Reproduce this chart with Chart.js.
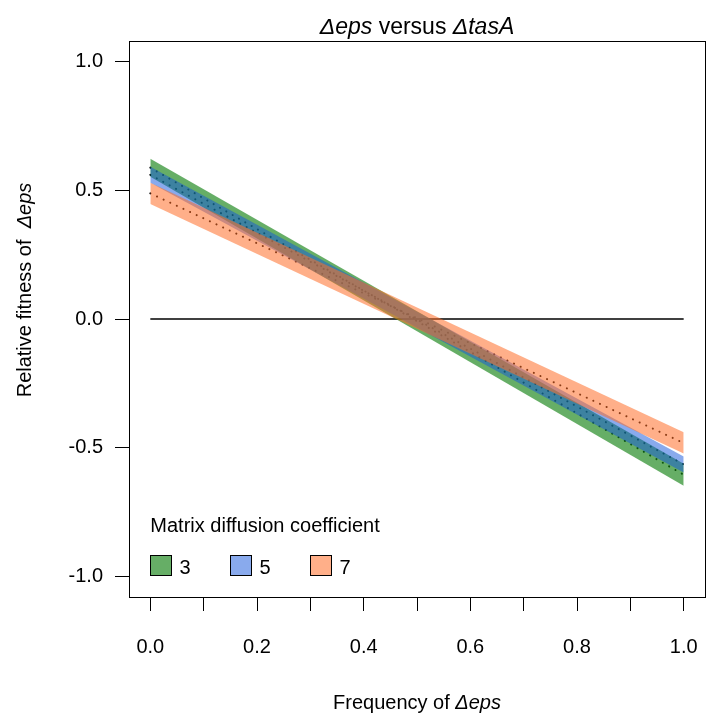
<!DOCTYPE html>
<html>
<head>
<meta charset="utf-8">
<script src="https://cdn.jsdelivr.net/npm/chart.js@4"></script>
<style>
  html, body { margin: 0; padding: 0; background: #fff; }
</style>
</head>
<body>
<canvas id="myChart" width="707" height="717"></canvas>
<script>
// values (fitted line + band at x = 0 and x = 1)
const xEnds = [0, 1];
const coefficients = ['3', '5', '7'];
const mean3 = [0.588, -0.605];
const low3 = [0.553, -0.648];
const high3 = [0.623, -0.562];
const mean5 = [0.560, -0.565];
const low5 = [0.529, -0.596];
const high5 = [0.591, -0.534];
const mean7 = [0.488, -0.482];
const low7 = [0.447, -0.523];
const high7 = [0.529, -0.440];
const zeroLine = [0, 0];

const xTicks = [0, 0.1, 0.2, 0.3, 0.4, 0.5, 0.6, 0.7, 0.8, 0.9, 1];
const xTickLabels = ['0.0', '', '0.2', '', '0.4', '', '0.6', '', '0.8', '', '1.0'];
const yTicks = [-1, -0.5, 0, 0.5, 1];
const yTickLabels = ['-1.0', '-0.5', '0.0', '0.5', '1.0'];

const bandColors = ['rgba(20,130,20,0.65)', 'rgba(20,85,220,0.5)', 'rgba(255,110,40,0.55)'];

const FONT = "'Liberation Sans', Arial, sans-serif";
const FS = 20;

function pts(ys) {
    return xEnds.map((x, i) => ({ x: x, y: ys[i] }));
}

const hidden = 'rgba(0,0,0,0)';
const bands = [[low3, high3], [low5, high5], [low7, high7]];
const means = [mean3, mean5, mean7];

const datasets = [];
// zero line and dotted fitted lines sit under the bands
datasets.push({ data: pts(zeroLine), borderColor: '#000', borderWidth: 1.6, pointRadius: 0, fill: false, order: 20 });
means.forEach(m => {
    datasets.push({ data: pts(m), borderColor: '#000', borderWidth: 2, borderDash: [0.1, 7.2], borderCapStyle: 'round',
        pointRadius: 0, fill: false, order: 10 });
});
bands.forEach((b, i) => {
    const ord = 3 - i;
    datasets.push({ data: pts(b[1]), borderColor: hidden, borderWidth: 0, pointRadius: 0,
        backgroundColor: bandColors[i], fill: '+1', order: ord });
    datasets.push({ data: pts(b[0]), borderColor: hidden, borderWidth: 0, pointRadius: 0, fill: false, order: ord });
});

// text with italic runs, centred on x
function drawRuns(ctx, runs, x, y, size) {
    let total = 0;
    runs.forEach(r => {
        ctx.font = (r.it ? 'italic ' : '') + size + 'px ' + FONT;
        r.w = ctx.measureText(r.t).width;
        total += r.w;
    });
    let cx = x - total / 2;
    ctx.textAlign = 'left';
    runs.forEach(r => {
        ctx.font = (r.it ? 'italic ' : '') + size + 'px ' + FONT;
        ctx.fillText(r.t, cx, y);
        cx += r.w;
    });
}

const decor = {
    id: 'decor',
    beforeDraw(chart) {
        const ctx = chart.ctx;
        ctx.save();
        ctx.fillStyle = '#fff';
        ctx.fillRect(0, 0, chart.width, chart.height);
        ctx.restore();
    },
    afterDraw(chart) {
        const ctx = chart.ctx;
        const a = chart.chartArea;
        const xs = chart.scales.x;
        ctx.save();
        // box
        ctx.strokeStyle = '#000';
        ctx.lineWidth = 1;
        ctx.strokeRect(Math.round(a.left) + 0.5, Math.round(a.top) + 0.5, Math.round(a.right - a.left), Math.round(a.bottom - a.top));

        ctx.fillStyle = '#000';
        ctx.textBaseline = 'alphabetic';
        const mid = (a.left + a.right) / 2;
        drawRuns(ctx, [{ t: 'Δeps', it: true }, { t: ' versus ', it: false }, { t: 'ΔtasA', it: true }], mid, 34, 23);
        drawRuns(ctx, [{ t: 'Frequency of ', it: false }, { t: 'Δeps', it: true }], mid, 709, FS);

        ctx.save();
        ctx.translate(31, 290);
        ctx.rotate(-Math.PI / 2);
        drawRuns(ctx, [{ t: 'Relative fitness of  ', it: false }, { t: 'Δeps', it: true }], 0, 0, FS);
        ctx.restore();

        // legend
        const lx = xs.getPixelForValue(0);
        ctx.font = FS + 'px ' + FONT;
        ctx.textAlign = 'left';
        ctx.fillText('Matrix diffusion coefficient', lx, 532);
        coefficients.forEach((c, i) => {
            const bx = Math.round(lx + i * 80) + 0.5;
            const by = 555.5;
            ctx.fillStyle = '#fff';
            ctx.fillRect(bx, by, 21, 20);
            ctx.fillStyle = bandColors[i];
            ctx.fillRect(bx, by, 21, 20);
            ctx.strokeStyle = '#000';
            ctx.strokeRect(bx, by, 21, 20);
            ctx.fillStyle = '#000';
            ctx.fillText(c, bx + 29, by + 18);
        });
        ctx.restore();
    }
};

const config = {
    type: 'line',
    data: { datasets: datasets },
    options: {
        responsive: false,
        animation: false,
        layout: { padding: { top: 41, right: 2, left: 0, bottom: 0 } },
        plugins: { legend: { display: false }, tooltip: { enabled: false } },
        scales: {
            x: {
                type: 'linear',
                min: -0.04,
                max: 1.04,
                afterFit: s => { s.height = 120; s.paddingLeft = 0; s.paddingRight = 0; },
                afterBuildTicks: s => { s.ticks = xTicks.map(v => ({ value: v })); },
                border: { display: false },
                grid: { drawOnChartArea: false, drawTicks: true, tickLength: 14, color: '#000', lineWidth: 1 },
                ticks: {
                    autoSkip: false,
                    maxRotation: 0,
                    padding: 24,
                    color: '#000',
                    font: { family: FONT, size: FS },
                    callback: (v, i) => xTickLabels[i]
                }
            },
            y: {
                min: -1.08,
                max: 1.08,
                afterFit: s => { s.width = 129; s.paddingTop = 0; s.paddingBottom = 0; },
                afterBuildTicks: s => { s.ticks = yTicks.map(v => ({ value: v })); },
                border: { display: false },
                grid: { drawOnChartArea: false, drawTicks: true, tickLength: 14, color: '#000', lineWidth: 1 },
                ticks: {
                    padding: 12,
                    color: '#000',
                    font: { family: FONT, size: FS },
                    callback: (v, i) => yTickLabels[i]
                }
            }
        }
    },
    plugins: [decor]
};

const myChart = new Chart(document.getElementById('myChart'), config);
</script>
</body>
</html>
